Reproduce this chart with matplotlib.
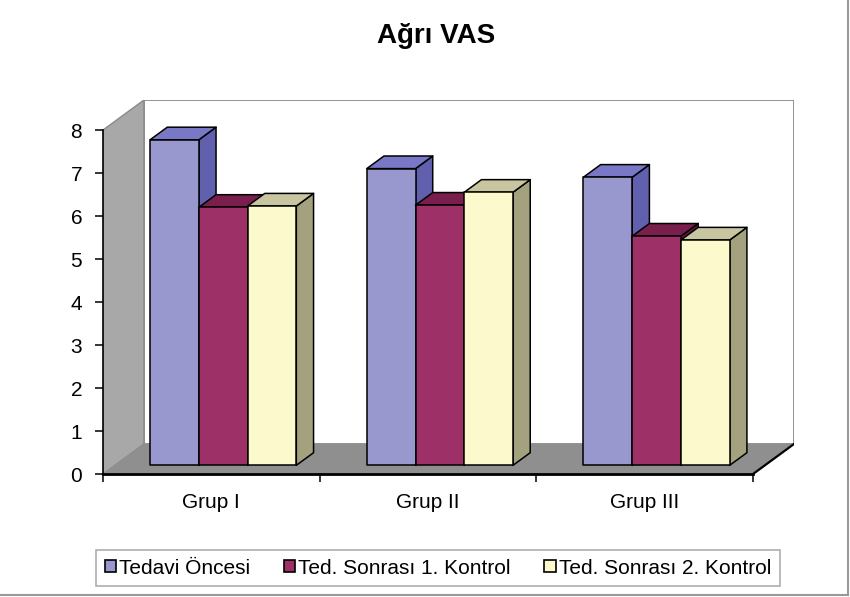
import matplotlib
matplotlib.use("Agg")
import matplotlib.pyplot as plt
from matplotlib.patches import Polygon
from matplotlib.lines import Line2D

# data
groups = ["Grup I", "Grup II", "Grup III"]
series = ["Tedavi Öncesi", "Ted. Sonrası 1. Kontrol", "Ted. Sonrası 2. Kontrol"]
tedavi_oncesi = [7.57, 6.9, 6.7]
kontrol_1 = [6.0, 6.05, 5.33]
kontrol_2 = [6.03, 6.35, 5.24]
title = "Ağrı VAS"

# (front, top, side) shades per series
colors = [
    ("#9898CE", "#7878C6", "#6060AE"),
    ("#9E3068", "#7A1E4E", "#6A1A44"),
    ("#FCFACC", "#C8C6A0", "#A4A27E"),
]

plt.rcParams["font.family"] = ["Liberation Sans", "DejaVu Sans"]

fig = plt.figure(figsize=(8.5, 5.97), dpi=100)
ax = fig.add_axes([103 / 850, 123 / 597, 691 / 850, 374 / 597])

ymax = 8
ddx, ddy = 0.189, 0.698      # full depth of the floor in data units
f0, f1 = 0.29, 0.71          # depth slice occupied by the bars
w = 0.225                    # bar width in category units
n = len(groups)

ax.set_xlim(0, n + ddx)
ax.set_ylim(0, ymax + ddy)

# walls and floor
back = Polygon([(ddx, ddy), (n + ddx, ddy), (n + ddx, ymax + ddy), (ddx, ymax + ddy)],
               closed=True, facecolor="white", edgecolor="#8a8a8a", lw=1.3, zorder=0)
left = Polygon([(0, 0), (ddx, ddy), (ddx, ymax + ddy), (0, ymax)],
               closed=True, facecolor="#A8A8A8", edgecolor="#8a8a8a", lw=1.0, zorder=0.5)
floor = Polygon([(0, 0), (n, 0), (n + ddx, ddy), (ddx, ddy)],
                closed=True, facecolor="#8F8F8F", edgecolor="none", zorder=0.6)
for p in (back, left, floor):
    ax.add_patch(p)
ax.plot([n, n + ddx], [0, ddy], color="black", lw=1.6, zorder=0.7)


def bar3d(x0, h, cols):
    fx, fy = ddx * f0, ddy * f0
    bx, by = ddx * (f1 - f0), ddy * (f1 - f0)
    xl, xr = x0 + fx, x0 + w + fx
    side = [(xr, fy), (xr + bx, fy + by), (xr + bx, fy + h + by), (xr, fy + h)]
    top = [(xl, fy + h), (xr, fy + h), (xr + bx, fy + h + by), (xl + bx, fy + h + by)]
    front = [(xl, fy), (xr, fy), (xr, fy + h), (xl, fy + h)]
    for pts, c in ((side, cols[2]), (top, cols[1]), (front, cols[0])):
        ax.add_patch(Polygon(pts, closed=True, facecolor=c, edgecolor="black",
                             lw=1.1, joinstyle="round", zorder=2))


data = [tedavi_oncesi, kontrol_1, kontrol_2]
start = (1 - len(series) * w) / 2
for i in range(n):
    for j in range(len(series)):
        bar3d(i + start + j * w, data[j][i], colors[j])

# axes
for s in ("top", "right"):
    ax.spines[s].set_visible(False)
ax.spines["left"].set_bounds(0, ymax)
ax.spines["bottom"].set_bounds(0, n)
ax.spines["left"].set_linewidth(1.2)
ax.spines["bottom"].set_linewidth(2.0)
ax.spines["left"].set_zorder(3)
ax.spines["bottom"].set_zorder(3)

ax.set_yticks(range(0, ymax + 1))
ax.tick_params(axis="y", direction="out", length=6, width=1.1, pad=9, labelsize=15)
ax.set_xticks(range(0, n + 1))
ax.set_xticklabels([])
ax.set_xticks([i + 0.5 for i in range(n)], minor=True)
ax.set_xticklabels(groups, minor=True)
ax.tick_params(axis="x", which="major", direction="out", length=6, width=1.1)
ax.tick_params(axis="x", which="minor", length=0, pad=14, labelsize=15)

fig.text(436 / 850, 1 - 36 / 597, title, ha="center", va="center",
         fontsize=20, fontweight="bold")

handles = [Polygon([(0, 0)], closed=True, facecolor=c[0], edgecolor="black", lw=1.2)
           for c in colors]
leg = fig.legend(handles, series, loc="center", bbox_to_anchor=(438 / 850, 1 - 568 / 597),
                 ncol=3, fontsize=15, frameon=True, fancybox=False,
                 handlelength=0.55, handleheight=0.55, handletextpad=0.15,
                 columnspacing=1.6, borderpad=0.4, borderaxespad=0)
leg.get_frame().set_edgecolor("#999999")
leg.get_frame().set_linewidth(1.2)

# outer frame (right and bottom)
fig.add_artist(Line2D([0.998, 0.998], [0.003, 1], transform=fig.transFigure,
                      color="#999999", lw=1.5))
fig.add_artist(Line2D([0, 0.998], [0.003, 0.003], transform=fig.transFigure,
                      color="#999999", lw=1.5))

fig.savefig("out.png", dpi=100)
